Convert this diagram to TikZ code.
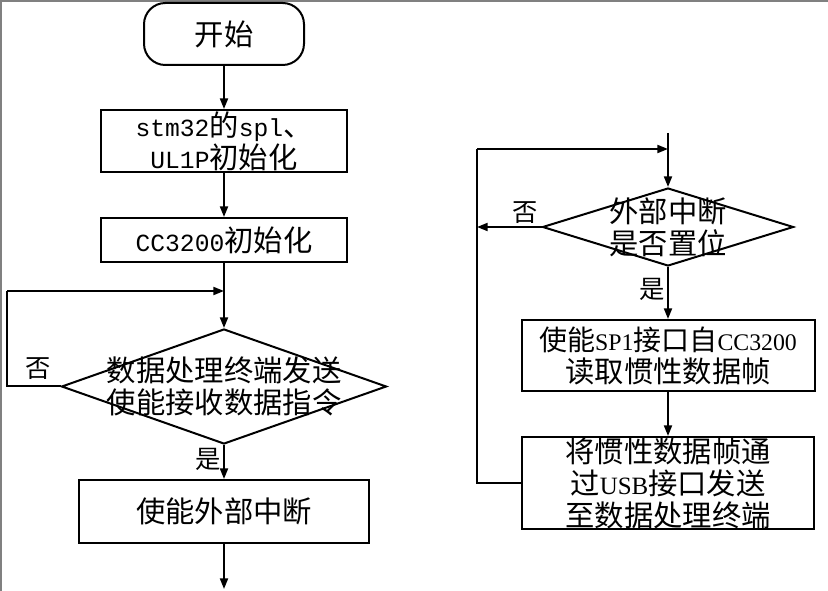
\documentclass[tikz,border=0pt]{standalone}
\usepackage{fontspec}
\setmainfont{Noto Sans CJK SC}
\newfontfamily\monolat[Scale=0.84]{Liberation Mono}
\newfontfamily\serlat[Scale=0.85]{Liberation Serif}
\usetikzlibrary{shapes.geometric, arrows.meta, positioning}

\begin{document}
\begin{tikzpicture}[
        node distance=30pt,
        font=\fontsize{22pt}{24pt}\selectfont,
        block/.style={rectangle, draw, line width=1.5pt, align=center, inner sep=0pt},
        startstop/.style={rectangle, draw, line width=1.5pt, rounded corners=16pt, minimum width=120pt, minimum height=46.5pt},
        decision/.style={diamond, draw, line width=1.5pt, inner sep=0pt},
        arrow/.style={line width=1.5pt,-{Triangle[length=8pt,width=6pt]}},
        tag/.style={font=\fontsize{19pt}{19pt}\selectfont, inner sep=1.5pt}
    ]
    \useasboundingbox (0,0) rectangle (621pt,-443.25pt);
    \draw[gray, line width=1.5pt] (0.75pt,-443.25pt) -- (0.75pt,-0.75pt) -- (621pt,-0.75pt);

    % left column: initialisation
    \node [startstop] (start) at (168pt,-25.5pt) {开始};
    \node [block, below=32.25pt of start, minimum width=184.5pt, minimum height=46.5pt] (initspi) {{\monolat stm32}的{\monolat spl}、\\ {\monolat UL1P}初始化};
    \node [block, below=33pt of initspi, minimum width=184pt, minimum height=33pt] (initcc) {{\monolat CC3200}初始化};
    \node [decision, below=48.75pt of initcc, minimum width=243.75pt, minimum height=86.25pt] (waitcmd) {};
    \node [align=center, inner sep=0pt] (waitcmdtext) at (waitcmd) {数据处理终端发送\\ 使能接收数据指令};
    \node [block, below=25.5pt of waitcmd, minimum width=217.5pt, minimum height=47.25pt] (enirq) {使能外部中断};
    \coordinate [below=33.75pt of enirq] (leftend);
    \coordinate (leftloop) at (5.25pt,-218.25pt);

    % right column: interrupt loop
    \coordinate (righttop) at (501pt,-99.75pt);
    \coordinate (rightloop) at (357.75pt,-111.75pt);
    \node [decision, minimum width=188.25pt, minimum height=58.5pt] (chkirq) at (501pt,-170.25pt) {};
    \node [align=center, inner sep=0pt] (chkirqtext) at (chkirq) {外部中断\\ 是否置位};
    \node [block, below=39pt of chkirq, minimum width=219.75pt, minimum height=53.25pt] (readframe) {{\fontsize{21pt}{24pt}\selectfont 使能{\serlat SP1}接口自{\serlat CC3200}}\\ 读取惯性数据帧};
    \node [block, below=33pt of readframe, minimum width=219pt, minimum height=69pt] (sendframe) {将惯性数据帧通\\ 过{\serlat USB}接口发送\\ 至数据处理终端};

    % connecting lines
    \draw [arrow] (start) -- (initspi);
    \draw [arrow] (initspi) -- (initcc);
    \draw [arrow] (initcc) -- (waitcmd);
    \draw [line width=1.5pt] (waitcmd.west) -- node[tag, above, pos=0.42, yshift=3pt] (no1) {否} (waitcmd.west -| leftloop) -- (leftloop);
    \draw [arrow] (leftloop) -- (leftloop -| waitcmd.north);
    \draw [arrow] (waitcmd) -- node[tag, left, yshift=2pt] (yes1) {是} (enirq);
    \draw [arrow] (enirq) -- (leftend);

    \draw [arrow] (righttop) -- (chkirq);
    \draw [arrow] (chkirq.west) -- node[tag, above, pos=0.25] (no2) {否} (chkirq.west -| rightloop);
    \draw [arrow] (chkirq) -- node[tag, left, yshift=3pt] (yes2) {是} (readframe);
    \draw [arrow] (readframe) -- (sendframe);
    \draw [line width=1.5pt] (sendframe.west) -| (rightloop);
    \draw [arrow] (rightloop) -- (rightloop -| chkirq.north);
\end{tikzpicture}
\end{document}
